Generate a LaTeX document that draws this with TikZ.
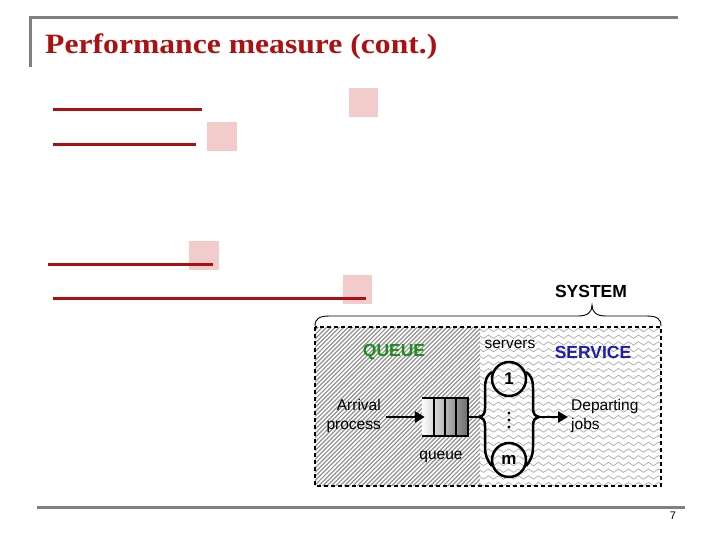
\documentclass[tikz,border=0pt]{standalone}
\usepackage{fontspec}
\setmainfont{Liberation Serif}
\setsansfont{Liberation Sans}
\usetikzlibrary{arrows.meta,decorations.pathmorphing}
\definecolor{titlered}{RGB}{172,16,16}
\definecolor{pinkbox}{RGB}{242,203,203}
\definecolor{framegray}{RGB}{128,128,128}
\definecolor{qgreen}{RGB}{30,140,30}
\definecolor{sblue}{RGB}{30,30,170}
\begin{document}
\begin{tikzpicture}[x=1pt,y=-1pt,
  redline/.style={draw=titlered, line width=3},
  pinksq/.style={fill=pinkbox},
  frameline/.style={draw=framegray, line width=3},
  lbl/.style={font=\sffamily\fontsize{15.5}{19}\selectfont, inner sep=0},
  blbl/.style={font=\sffamily\bfseries\fontsize{17.5}{20}\selectfont, inner sep=0},
  srv/.style={circle, draw, line width=2.5, minimum size=34, inner sep=0, font=\sffamily\bfseries\fontsize{17}{18}\selectfont},
  thick line/.style={line width=2.5},
  arr/.style={line width=2.5, -{Triangle[length=10,width=11]}},
  zz/.style={draw=gray!65, line width=0.7, decorate, decoration={zigzag, segment length=10, amplitude=1.7}},
  hatch/.style={draw=gray!85, line width=1.2}
]
\useasboundingbox (0,0) rectangle (720,540);
\fill[white] (0,0) rectangle (720,540);

% slide frame
\draw[frameline] (30,67) -- (30,18) -- (678,18);
\draw[frameline] (37,507) -- (685,507);
\node[anchor=base west, text=titlered, font=\bfseries\fontsize{28}{32}\selectfont, xscale=1.13, inner sep=0] (title) at (45,54) {Performance measure (cont.)};
\node[font=\sffamily\fontsize{11}{12}\selectfont, inner sep=0] (pg) at (673,516) {7};

% placeholder squares and red lines
\fill[pinksq] (349,88) rectangle (378,117);
\fill[pinksq] (207,122) rectangle (237,151);
\fill[pinksq] (189,241) rectangle (219,270);
\fill[pinksq] (343,275) rectangle (372,304);
\draw[redline] (53,110) -- (202,110);
\draw[redline] (53,145) -- (196,145);
\draw[redline] (48,264) -- (213,264);
\draw[redline] (53,298) -- (366,298);

% backgrounds
\begin{scope}
\clip (315,327) rectangle (480,486);
\foreach \i in {0,...,78} \draw[hatch] ({155+\i*4.3},486) -- ++(160,-160);
\end{scope}
\begin{scope}
\clip (480,327) rectangle (661,486);
\foreach \yy in {330,336.7,...,490} \draw[zz] (476,\yy) -- (666,\yy);
\end{scope}
\draw[line width=1.6, dash pattern=on 4 off 3] (315,327) rectangle (661,486);

% system brace
\draw[line width=0.9] (315,326) .. controls (315,318) and (320,316) .. (330,316) -- (578,316)
  .. controls (588,316) and (592,312) .. (592,305)
  .. controls (592,312) and (596,316) .. (606,316) -- (646,316)
  .. controls (656,316) and (661,318) .. (661,326);
\node[blbl] (sys) at (591,291) {SYSTEM};

% labels
\node[blbl, text=qgreen] (qlab) at (394,352) {QUEUE};
\node[blbl, text=sblue] (slab) at (593,352) {SERVICE};
\node[lbl] (servers) at (510,344) {servers};

% servers
\node[srv] (s1) at (509,379) {1};
\node[srv] (sm) at (509,460) {m};
\coordinate (lb) at (479,417);
\coordinate (rb) at (539,417);
\draw[thick line] (492,372) .. controls (487,375) and (485,380) .. (485,388) -- (485,408)
  .. controls (485,414) and (483,416) .. (lb)
  .. controls (483,418) and (485,420) .. (485,426) -- (485,447)
  .. controls (485,455) and (487,460) .. (492,466);
\draw[thick line] (526,372) .. controls (531,375) and (533,380) .. (533,388) -- (533,408)
  .. controls (533,414) and (535,416) .. (rb)
  .. controls (535,418) and (533,420) .. (533,426) -- (533,447)
  .. controls (533,455) and (531,460) .. (526,466);
\foreach \yy in {413,420,427} \fill (509,\yy) circle (1.7);

% queue
\node[minimum width=46, minimum height=38, inner sep=0] (q) at (445,417) {};
\shade[left color=white, right color=gray!85!black] (q.south west) rectangle (q.north east);
\draw[thick line] (q.north west) -- (q.north east) -- (q.south east) -- (q.south west);
\foreach \xx in {434,445,456} \draw[thick line] (\xx,398) -- (\xx,436);
\node[lbl] (qtext) at (441,457) {queue};

% arrival / departure
\node[lbl, anchor=east, align=right] (arr) at (381,416) {Arrival\\process};
\node[lbl, anchor=west, align=left] (dep) at (571,416) {Departing\\jobs};
\coordinate (arrstart) at (386,417);
\draw[arr] (arrstart) -- ([xshift=3]q.west);
\draw[thick line] (q.east) -- (lb);
\draw[arr] (rb) -- ([xshift=-3]dep.west |- rb);
\end{tikzpicture}
\end{document}
